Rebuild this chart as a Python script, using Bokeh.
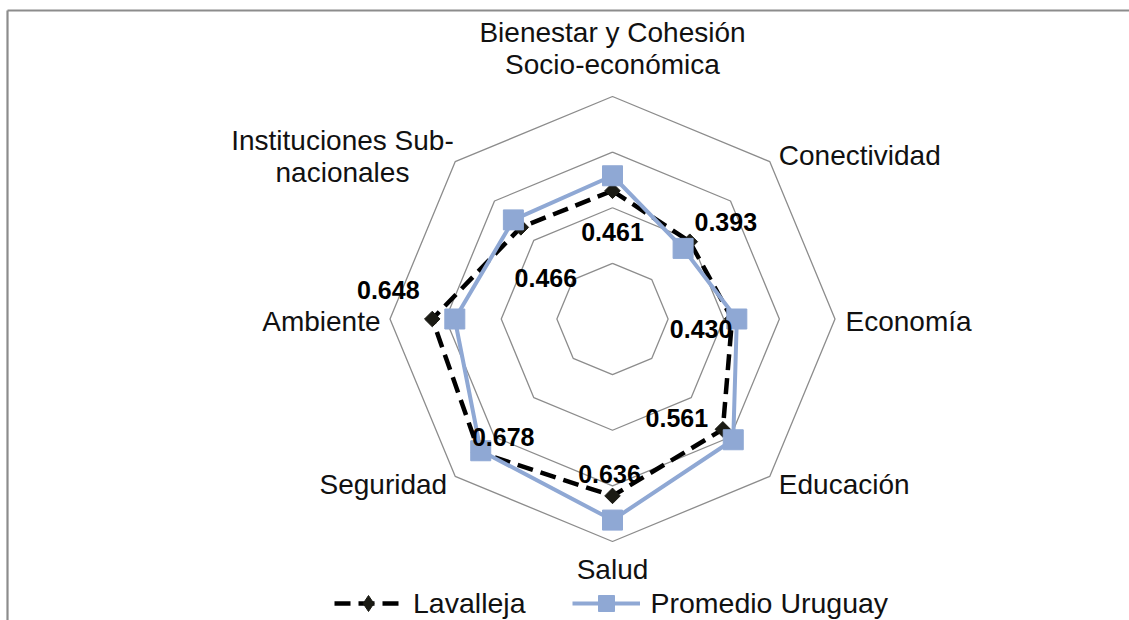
import math
from bokeh.plotting import figure
from bokeh.models import Range1d, Legend, LegendItem, ColumnDataSource
from bokeh.core.properties import value
from bokeh.embed import file_html
from bokeh.resources import INLINE

# ---------------- data ----------------
categories = [
    "Bienestar y Cohesión Socio-económica",
    "Conectividad",
    "Economía",
    "Educación",
    "Salud",
    "Seguridad",
    "Ambiente",
    "Instituciones Sub-nacionales",
]
category_lines = [
    "Bienestar y Cohesión\nSocio-económica",
    "Conectividad",
    "Economía",
    "Educación",
    "Salud",
    "Seguridad",
    "Ambiente",
    "Instituciones Sub-\nnacionales",
]
lavalleja = [0.461, 0.393, 0.430, 0.561, 0.636, 0.678, 0.648, 0.466]
promedio_uruguay = [0.515, 0.359, 0.447, 0.614, 0.723, 0.670, 0.567, 0.504]
ring_levels = [0.2, 0.4, 0.6, 0.8]
series_names = ["Lavalleja", "Promedio Uruguay"]

# ---------------- layout / style ----------------
W, H = 1129, 620
CXF, CYF = 612.0, 318.5          # centre of the radar in frame pixels
PX = 222.5 / 0.8                  # pixels per unit value
FONT = "Liberation Sans"
GRID = "#8c8c8c"
BLUE = "#8fa8d4"
DARK = "#1b1b14"

# screen offsets (px, +down) for category labels and data labels
cat_off = [(0, -48), (9, -6), (10.5, 2.5), (9, 8), (0, 28), (-8, 8), (-9.5, 2.5), (-112.7, -5)]
cat_align = ["center", "left", "left", "left", "center", "right", "right", "center"]
lab_off = [(0, 41), (36, -19.5), (-31, 9.5), (-46, -11), (-3, -22), (24, -15), (-44, -29.5), (25, 51)]

n = len(categories)
angles = [math.pi / 2 - i * 2 * math.pi / n for i in range(n)]


def polar(vals):
    xs = [v * math.cos(a) for v, a in zip(vals, angles)]
    ys = [v * math.sin(a) for v, a in zip(vals, angles)]
    return xs, ys


p = figure(
    width=W, height=H,
    x_range=Range1d(-CXF / PX, (W - CXF) / PX),
    y_range=Range1d(-(H - CYF) / PX, CYF / PX),
    output_backend="svg", toolbar_location=None,
    min_border=0, outline_line_color=None,
)
p.axis.visible = False
p.grid.visible = False
p.background_fill_color = "white"
p.border_fill_color = "white"

# chart border (top and left edges visible)
top_y = (CYF - 10) / PX
left_x = (7 - CXF) / PX
p.line([left_x, (W - CXF) / PX + 1], [top_y, top_y], line_color=GRID, line_width=2.2)
p.line([left_x, left_x], [top_y, -(H - CYF) / PX - 1], line_color=GRID, line_width=2.2)

# rings
for lv in ring_levels:
    xs, ys = polar([lv] * n)
    p.line(xs + xs[:1], ys + ys[:1], line_color=GRID, line_width=1.3)

# category labels
outer = ring_levels[-1]
ox, oy = polar([outer] * n)
for i in range(n):
    dx, dy = cat_off[i]
    p.text(x=[ox[i] + dx / PX], y=[oy[i] - dy / PX], text=[category_lines[i]],
           text_font=value(FONT), text_font_size="28px", text_color="#111111",
           text_align=cat_align[i], text_baseline="middle", text_line_height=1.04)

# series
lx, ly = polar(lavalleja)
ux, uy = polar(promedio_uruguay)

lav_line = p.line(lx + lx[:1], ly + ly[:1], line_color="black", line_width=4.5,
                  line_dash="16 8")
lav_pts = p.scatter(lx, ly, marker="square", size=11, angle=math.pi / 4,
                    fill_color=DARK, line_color=DARK)
uy_line = p.line(ux + ux[:1], uy + uy[:1], line_color=BLUE, line_width=4)
uy_pts = p.scatter(ux, uy, marker="square", size=20, fill_color=BLUE, line_color=BLUE)

# legend-only marker (diamond key); a NaN point draws nothing on the chart
lav_key = p.scatter([float("nan")], [float("nan")], marker="diamond", size=20,
                    fill_color=DARK, line_color=DARK)

# data labels for Lavalleja
tx = [x + o[0] / PX for x, o in zip(lx, lab_off)]
ty = [y - o[1] / PX for y, o in zip(ly, lab_off)]
src = ColumnDataSource(dict(x=tx, y=ty, t=[f"{v:.3f}" for v in lavalleja]))
p.text(x="x", y="y", text="t", source=src, text_font=value(FONT), text_font_size="25px",
       text_font_style="bold", text_color="black", text_align="center",
       text_baseline="middle")

legend = Legend(
    items=[LegendItem(label=series_names[0], renderers=[lav_line, lav_key]),
           LegendItem(label=series_names[1], renderers=[uy_line, uy_pts])],
    orientation="horizontal", location=(334, -3),
    glyph_width=68, glyph_height=40, label_standoff=11, spacing=46,
    padding=0, margin=0, border_line_alpha=0, background_fill_alpha=0,
    label_text_font=FONT, label_text_font_size="28.5px", label_text_color="#111111",
)
p.add_layout(legend)

open("out.html", "w").write(file_html(p, INLINE))
